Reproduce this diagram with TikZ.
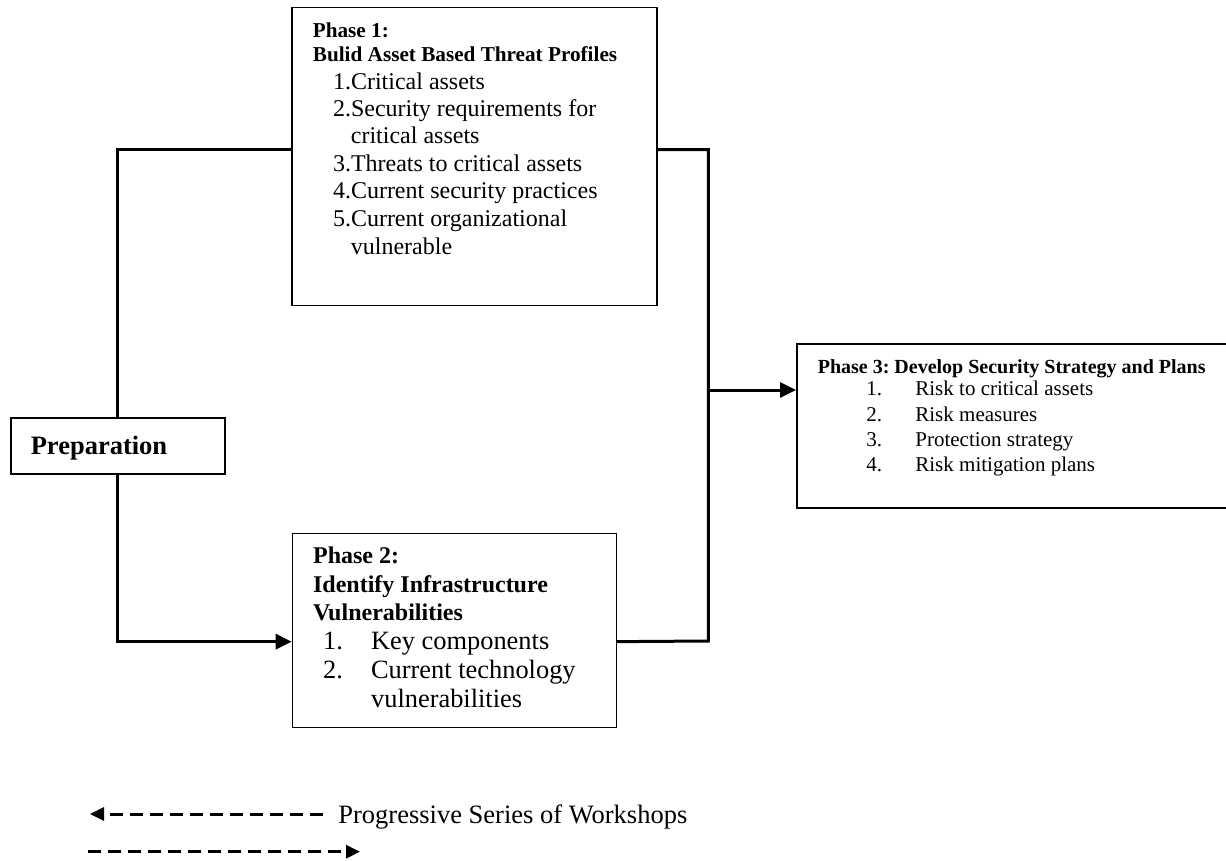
\documentclass[tikz,border=0pt]{standalone}
\usepackage{fontspec}
\setmainfont{Liberation Serif}
\usetikzlibrary{arrows.meta}
\frenchspacing
\begin{document}
\begin{tikzpicture}[x=0.5pt,y=-0.5pt,
    box/.style={draw=black,line width=0.75pt,anchor=north west},
    link/.style={line width=1.5pt},
    arr/.style={line width=1.5pt,-{Triangle[length=8pt,width=7.5pt]}},
    key/.style={line width=1.5pt,dash pattern=on 6.5pt off 3.5pt,-{Triangle[length=7pt,width=6.5pt]}},
    txt/.style={anchor=base west}]
    \tikzstyle{every node}+=[inner sep=0pt]
    \useasboundingbox (0,0) rectangle (1226,861);
    % boxes
    \node [box,minimum width=182.5pt,minimum height=149pt] (p1) at (291,7) {};
    \node [box,minimum width=107pt,minimum height=28pt] (prep) at (10,417.3) {};
    \node [box,minimum width=162pt,minimum height=97pt] (p2) at (291.7,532.7) {};
    \node [box,minimum width=218pt,minimum height=82pt] (p3) at (796,343) {};
    % phase 1
    \node [txt,font=\fontsize{10.6}{12}\selectfont\bfseries] (p1a) at (312.5,38) {Phase 1:};
    \node [txt,font=\fontsize{10.6}{12}\selectfont\bfseries] (p1b) at (312.5,62) {Bulid Asset Based Threat Profiles};
    \node [txt,font=\fontsize{12}{14}\selectfont] (p1c) at (332.6,89.3) {1.Critical assets};
    \node [txt,font=\fontsize{12}{14}\selectfont] (p1d) at (332.6,117) {2.Security requirements for};
    \node [txt,font=\fontsize{12}{14}\selectfont] (p1e) at (350.5,144) {critical assets};
    \node [txt,font=\fontsize{12}{14}\selectfont] (p1f) at (332.6,171.7) {3.Threats to critical assets};
    \node [txt,font=\fontsize{12}{14}\selectfont] (p1g) at (332.6,199) {4.Current security practices};
    \node [txt,font=\fontsize{12}{14}\selectfont] (p1h) at (332.6,226.7) {5.Current organizational};
    \node [txt,font=\fontsize{12}{14}\selectfont] (p1i) at (350.5,255) {vulnerable};
    % preparation
    \node [txt,font=\fontsize{13.25}{15}\selectfont\bfseries] (prepa) at (30.4,454) {Preparation};
    % phase 2
    \node [txt,font=\fontsize{12}{14}\selectfont\bfseries] (p2a) at (312.7,563) {Phase 2:};
    \node [txt,font=\fontsize{12}{14}\selectfont\bfseries] (p2b) at (312.7,592.7) {Identify Infrastructure};
    \node [txt,font=\fontsize{12}{14}\selectfont\bfseries] (p2c) at (312.7,620) {Vulnerabilities};
    \node [txt,font=\fontsize{13.2}{15}\selectfont] (p2d) at (322.7,649) {\makebox[24pt][l]{1.}Key components};
    \node [txt,font=\fontsize{13.2}{15}\selectfont] (p2e) at (322.7,678) {\makebox[24pt][l]{2.}Current technology};
    \node [txt,font=\fontsize{13.2}{15}\selectfont] (p2f) at (370.7,707) {vulnerabilities};
    % phase 3
    \node [txt,font=\fontsize{10}{12}\selectfont\bfseries] (p3a) at (817.4,373.3) {Phase 3: Develop Security Strategy and Plans};
    \node [txt,font=\fontsize{10.5}{12}\selectfont] (p3b) at (866,395) {\makebox[24.5pt][l]{1.}Risk to critical assets};
    \node [txt,font=\fontsize{10.5}{12}\selectfont] (p3c) at (866,421) {\makebox[24.5pt][l]{2.}Risk measures};
    \node [txt,font=\fontsize{10.5}{12}\selectfont] (p3d) at (866,446.7) {\makebox[24.5pt][l]{3.}Protection strategy};
    \node [txt,font=\fontsize{10.5}{12}\selectfont] (p3e) at (866,471.7) {\makebox[24.5pt][l]{4.}Risk mitigation plans};
    % connectors
    \coordinate (jn) at (708.3,641);
    \coordinate (tap) at (708.3,390);
    \draw [link] (prep.north) |- ([yshift=3.5pt]p1.west);
    \draw [arr] (prep.south) |- ([yshift=-5.6pt]p2.west);
    \draw [link] ([yshift=3.5pt]p1.east) -| (jn) -- ([yshift=-5.6pt]p2.east);
    \draw [arr] (tap) -- (tap -| p3.west);
    % key
    \coordinate (k1a) at (323,814);
    \coordinate (k1b) at (90,814);
    \coordinate (k2a) at (88,851.7);
    \coordinate (k2b) at (360,851.7);
    \draw [key] (k1a) -- (k1b);
    \draw [key] (k2a) -- (k2b);
    \node [txt,font=\fontsize{13.25}{15}\selectfont] (ka) at (338,823.3) {Progressive Series of Workshops};
\end{tikzpicture}
\end{document}
